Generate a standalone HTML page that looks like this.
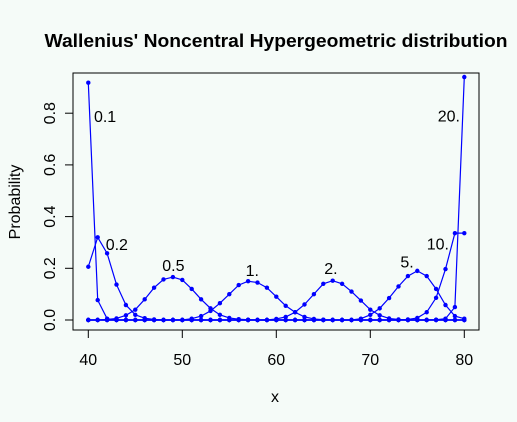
<!DOCTYPE html>
<html><head><meta charset="utf-8"><style>
html,body{margin:0;padding:0;background:#f5fbf8;}
svg{display:block;font-family:"Liberation Sans",Arial,sans-serif;}
</style></head><body>
<svg id="chart" width="517" height="422" viewBox="0 0 517 422">
<rect x="0" y="0" width="517" height="422" fill="#f5fbf8"/>
<text x="276" y="47" text-anchor="middle" font-size="18" font-weight="bold" textLength="463" lengthAdjust="spacingAndGlyphs">Wallenius' Noncentral Hypergeometric distribution</text>
<rect x="73" y="73" width="406" height="257" fill="none" stroke="#000" stroke-width="1"/>
<g id="xaxis"></g>
<g id="yaxis"></g>
<text x="275" y="402" text-anchor="middle" font-size="16">x</text>
<text x="0" y="0" transform="translate(20,202) rotate(-90)" text-anchor="middle" font-size="16">Probability</text>
<g id="series"></g>
<g id="labels"></g>
</svg>
<script>
const xTicks = [40, 50, 60, 70, 80];
const yTicks = [0, 0.2, 0.4, 0.6, 0.8];
const yTickLabels = ["0.0", "0.2", "0.4", "0.6", "0.8"];
const curveNames = ["0.1", "0.2", "0.5", "1.", "2.", "5.", "10.", "20."];
// sparse non-zero values: [x, p]; all other x in 40..80 are 0
const s01 = [[40,0.918],[41,0.077],[42,0.005]];
const s02 = [[40,0.206],[41,0.32],[42,0.258],[43,0.137],[44,0.058],[45,0.02],[46,0.007],[47,0.002]];
const s05 = [[42,0.002],[43,0.006],[44,0.018],[45,0.04],[46,0.08],[47,0.125],[48,0.157],[49,0.166],[50,0.155],[51,0.12],[52,0.08],[53,0.045],[54,0.02],[55,0.008],[56,0.003],[57,0.001]];
const s1 = [[51,0.005],[52,0.015],[53,0.035],[54,0.065],[55,0.1],[56,0.135],[57,0.15],[58,0.145],[59,0.125],[60,0.09],[61,0.055],[62,0.03],[63,0.012],[64,0.004],[65,0.001]];
const s2 = [[60,0.004],[61,0.012],[62,0.03],[63,0.06],[64,0.1],[65,0.14],[66,0.152],[67,0.14],[68,0.11],[69,0.075],[70,0.04],[71,0.018],[72,0.006],[73,0.002]];
const s5 = [[69,0.005],[70,0.02],[71,0.045],[72,0.085],[73,0.13],[74,0.17],[75,0.19],[76,0.17],[77,0.12],[78,0.058],[79,0.015],[80,0.005]];
const s10 = [[74,0.002],[75,0.008],[76,0.03],[77,0.086],[78,0.197],[79,0.336],[80,0.336]];
const s20 = [[77,0.001],[78,0.005],[79,0.05],[80,0.94]];
const seriesData = [s01, s02, s05, s1, s2, s5, s10, s20];
// label anchor (left, baseline) in data coords [x, p]
const labelPos = [[40.6,0.766],[41.85,0.271],[47.87,0.19],[56.74,0.17],[65.1,0.178],[73.2,0.204],[76.0,0.273],[77.17,0.767]];

const NS = "http://www.w3.org/2000/svg";
const sx = v => 88.3 + (v - 40) * 9.4;
const sy = v => 320 - v * 258.5;
function mk(tag, attrs, parent){const e=document.createElementNS(NS,tag);for(const k in attrs)e.setAttribute(k,attrs[k]);parent.appendChild(e);return e;}

const xa = document.getElementById('xaxis');
xTicks.forEach(t=>{
  const l = mk('line',{x1:sx(t),x2:sx(t),y1:330,y2:338,stroke:'#000'},xa);
  
  
  const tx = mk('text',{x:sx(t),y:365,'text-anchor':'middle','font-size':16},xa);
  tx.textContent = t;
  
  
});
const ya = document.getElementById('yaxis');
yTicks.forEach((t,i)=>{
  const l = mk('line',{x1:65,x2:73,y1:sy(t),y2:sy(t),stroke:'#000'},ya);
  
  
  const tx = mk('text',{x:0,y:0,transform:`translate(55,${sy(t)}) rotate(-90)`,'text-anchor':'middle','font-size':16},ya);
  tx.textContent = yTickLabels[i];
  
  
});

const sg = document.getElementById('series');
seriesData.forEach((arr,si)=>{
  const m = {}; arr.forEach(([x,p])=>m[x]=p);
  const pts = [];
  for(let x=40;x<=80;x++) pts.push([x, m[x]||0]);
  const g = mk('g',{},sg);
  
  
  const pl = mk('polyline',{points:pts.map(([x,p])=>sx(x)+','+sy(p)).join(' '),fill:'none',stroke:'#0000ff','stroke-width':1.2},g);
  
  
  pts.forEach(([x,p])=>{
    const c = mk('circle',{cx:sx(x),cy:sy(p),r:2.2,fill:'#0000ff'},g);
    
    
  });
});
const lg = document.getElementById('labels');
labelPos.forEach(([x,p],i)=>{
  const t = mk('text',{x:sx(x),y:sy(p),'font-size':16},lg);
  t.textContent = curveNames[i];
  
  
});
</script>
</body></html>
